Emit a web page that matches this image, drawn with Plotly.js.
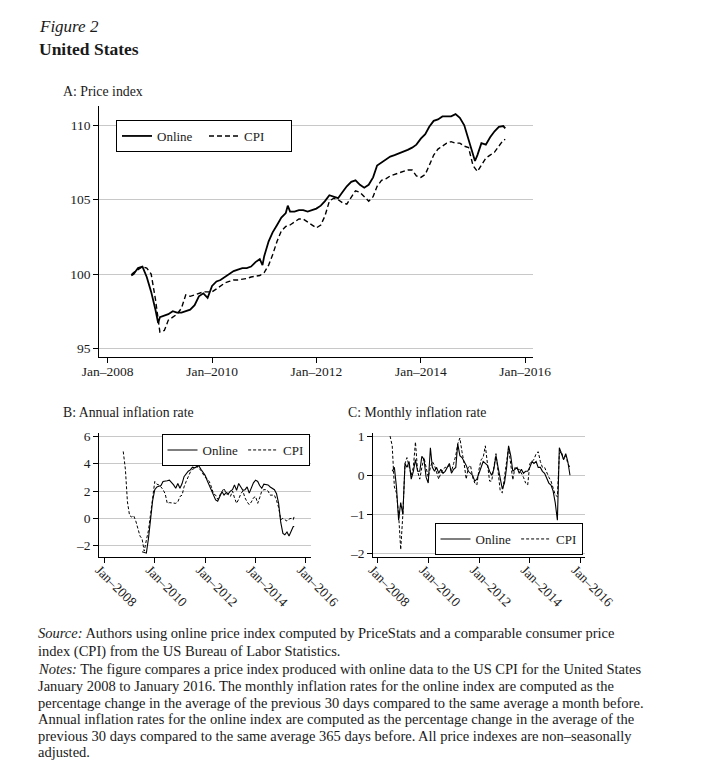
<!DOCTYPE html>
<html><head><meta charset="utf-8">
<script src="https://cdn.plot.ly/plotly-3.0.1.min.js"></script>
<style>html,body{margin:0;padding:0;background:#fff;} #chart{width:712px;height:775px;}</style>
</head><body><div id="chart"></div><script>
// ---------- Panel A: price index ----------
const aOnlineDates = ['2008-06-15','2008-07','2008-08','2008-09','2008-10','2008-11','2008-12','2008-12-20',
 '2009-01','2009-02','2009-03','2009-04','2009-05','2009-06','2009-07','2009-08','2009-09','2009-10','2009-11','2009-12',
 '2010-01','2010-02','2010-03','2010-04','2010-05','2010-06','2010-07','2010-08','2010-09','2010-10','2010-11','2010-12','2010-12-20',
 '2011-01','2011-02','2011-03','2011-04','2011-05','2011-06','2011-06-15','2011-07','2011-08','2011-09','2011-10','2011-11','2011-12',
 '2012-01','2012-02','2012-03','2012-04','2012-05','2012-06','2012-07','2012-08','2012-09','2012-10','2012-11','2012-12',
 '2013-01','2013-02','2013-03','2013-04','2013-05','2013-06','2013-07','2013-08','2013-09','2013-10','2013-11','2013-12',
 '2014-01','2014-02','2014-03','2014-04','2014-05','2014-06','2014-07','2014-08','2014-09','2014-10','2014-11','2014-12',
 '2015-01','2015-01-15','2015-02','2015-03','2015-04','2015-05','2015-06','2015-07','2015-08','2015-08-15'];
const aOnline = [99.9,100.0,100.4,100.5,99.8,98.8,97.6,96.7,
 97.1,97.2,97.3,97.5,97.4,97.4,97.5,97.6,97.9,98.5,98.7,98.4,
 99.2,99.5,99.6,99.8,100.0,100.2,100.3,100.4,100.4,100.5,100.8,101.0,100.6,
 101.2,102.2,102.8,103.3,103.8,104.1,104.6,104.2,104.2,104.3,104.3,104.2,104.3,
 104.4,104.6,104.9,105.3,105.2,105.1,105.5,105.9,106.2,106.3,106.0,105.8,
 106.0,106.5,107.3,107.5,107.7,107.9,108.0,108.1,108.2,108.35,108.5,108.7,
 109.1,109.4,109.9,110.3,110.4,110.6,110.6,110.6,110.75,110.5,110.0,109.0,
 107.9,107.6,108.0,108.8,108.7,109.2,109.6,109.9,109.95,109.8];
const aCpiDates = ['2008-06-15','2008-07','2008-08','2008-09','2008-10','2008-11','2008-12','2008-12-20',
 '2009-01','2009-02','2009-03','2009-04','2009-05','2009-06','2009-07','2009-08','2009-09','2009-10','2009-11','2009-12',
 '2010-01','2010-02','2010-03','2010-04','2010-05','2010-06','2010-07','2010-08','2010-09','2010-10','2010-11','2010-12',
 '2011-01','2011-02','2011-03','2011-04','2011-05','2011-06','2011-07','2011-08','2011-09','2011-10','2011-11','2011-12',
 '2012-01','2012-02','2012-03','2012-04','2012-05','2012-06','2012-07','2012-08','2012-09','2012-10','2012-11','2012-12',
 '2013-01','2013-02','2013-03','2013-04','2013-05','2013-06','2013-07','2013-08','2013-09','2013-10','2013-11','2013-12',
 '2014-01','2014-02','2014-03','2014-04','2014-05','2014-06','2014-07','2014-08','2014-09','2014-10','2014-11','2014-12',
 '2015-01','2015-02','2015-03','2015-04','2015-05','2015-06','2015-07','2015-08','2015-08-15'];
const aCpi = [99.95,100.1,100.3,100.5,100.4,100.0,98.3,97.0,
 96.1,96.2,96.9,97.1,97.3,97.7,98.6,98.5,98.6,98.7,98.8,98.8,
 98.8,99.0,99.2,99.4,99.5,99.6,99.6,99.65,99.7,99.8,99.85,99.9,
 100.1,100.6,101.3,102.2,102.9,103.2,103.3,103.5,103.7,103.7,103.5,103.3,
 103.1,103.3,103.9,104.9,105.1,105.0,104.8,104.7,105.2,105.6,105.5,105.2,
 104.9,105.2,105.9,106.3,106.4,106.6,106.7,106.8,106.9,107.0,107.0,106.6,
 106.5,106.7,107.3,108.0,108.4,108.6,108.8,108.9,108.8,108.8,108.6,108.5,
 107.3,106.9,107.3,107.8,108.0,108.2,108.6,109.0,109.05];

// ---------- Panel B: annual inflation rate ----------
const bCpiDates = ['2008-10','2008-11','2008-12',
 '2009-01','2009-02','2009-03','2009-04','2009-05','2009-06','2009-07','2009-08','2009-09','2009-10','2009-11','2009-12',
 '2010-01','2010-02','2010-03','2010-04','2010-05','2010-06','2010-07','2010-08','2010-09','2010-10','2010-11','2010-12',
 '2011-01','2011-02','2011-03','2011-04','2011-05','2011-06','2011-07','2011-08','2011-09','2011-10','2011-11','2011-12',
 '2012-01','2012-02','2012-03','2012-04','2012-05','2012-06','2012-07','2012-08','2012-09','2012-10','2012-11','2012-12',
 '2013-01','2013-02','2013-03','2013-04','2013-05','2013-06','2013-07','2013-08','2013-09','2013-10','2013-11','2013-12',
 '2014-01','2014-02','2014-03','2014-04','2014-05','2014-06','2014-07','2014-08','2014-09','2014-10','2014-11','2014-12',
 '2015-01','2015-02','2015-03','2015-04','2015-05','2015-06','2015-07','2015-07-15'];
const bCpi = [4.9,3.6,1.2,
 0.2,0.1,0.2,-0.2,-0.7,-1.3,-1.5,-2.4,-1.6,-0.9,0.3,1.6,
 2.7,2.5,2.45,2.3,2.1,1.8,1.1,1.15,1.15,1.15,1.1,1.2,
 1.6,1.7,2.3,2.7,3.1,3.4,3.6,3.65,3.8,3.7,3.5,3.2,
 3.0,2.9,2.7,2.3,1.8,1.7,1.4,1.7,2.0,2.2,1.8,1.75,
 1.6,2.0,1.5,1.1,1.4,1.8,2.0,1.5,1.2,1.0,1.2,1.5,
 1.6,1.1,1.5,2.0,2.1,2.1,2.0,1.7,1.7,1.7,1.3,0.8,
 -0.1,0.0,-0.1,-0.2,-0.05,0.0,-0.1,0.15];
const bOnlineDates = ['2009-07','2009-08','2009-09','2009-10','2009-11','2009-12',
 '2010-01','2010-02','2010-03','2010-04','2010-05','2010-06','2010-07','2010-08','2010-09','2010-10','2010-11','2010-12',
 '2011-01','2011-02','2011-03','2011-04','2011-05','2011-06','2011-07','2011-08','2011-09','2011-10','2011-11','2011-12',
 '2012-01','2012-02','2012-03','2012-04','2012-05','2012-06','2012-07','2012-08','2012-09','2012-10','2012-11','2012-12',
 '2013-01','2013-02','2013-03','2013-04','2013-05','2013-06','2013-07','2013-08','2013-09','2013-10','2013-11','2013-12',
 '2014-01','2014-02','2014-03','2014-04','2014-05','2014-06','2014-07','2014-08','2014-09','2014-10','2014-11','2014-12',
 '2015-01','2015-02','2015-03','2015-04','2015-05','2015-06','2015-07','2015-07-15'];
const bOnline = [-2.45,-2.5,-2.55,-1.5,0.2,1.3,
 2.1,2.3,2.35,2.4,2.7,2.7,2.75,2.8,2.65,2.45,2.2,2.55,
 2.2,2.55,3.05,3.3,3.45,3.55,3.75,3.7,3.8,3.85,3.6,3.4,
 3.15,2.75,2.4,2.1,1.7,1.35,1.25,1.6,1.95,1.7,1.9,1.8,
 2.0,2.1,2.45,2.05,2.55,2.3,2.05,2.1,2.3,1.85,2.3,2.6,
 2.8,2.7,2.4,2.2,2.5,2.45,2.45,2.3,2.2,2.1,1.8,1.1,
 -0.3,-1.1,-1.2,-1.0,-1.3,-0.9,-0.6,-0.6];

// ---------- Panel C: monthly inflation rate ----------
const cCpiDates = ['2008-07','2008-08','2008-09','2008-10','2008-11','2008-12',
 '2009-01','2009-02','2009-03','2009-04','2009-05','2009-06','2009-07','2009-08','2009-09','2009-10','2009-11','2009-12',
 '2010-01','2010-02','2010-03','2010-04','2010-05','2010-06','2010-07','2010-08','2010-09','2010-10','2010-11','2010-12',
 '2011-01','2011-02','2011-03','2011-04','2011-05','2011-06','2011-07','2011-08','2011-09','2011-10','2011-11','2011-12',
 '2012-01','2012-02','2012-03','2012-04','2012-05','2012-06','2012-07','2012-08','2012-09','2012-10','2012-11','2012-12',
 '2013-01','2013-02','2013-03','2013-04','2013-05','2013-06','2013-07','2013-08','2013-09','2013-10','2013-11','2013-12',
 '2014-01','2014-02','2014-03','2014-04','2014-05','2014-06','2014-07','2014-08','2014-09','2014-10','2014-11','2014-12',
 '2015-01','2015-02','2015-03','2015-04','2015-05','2015-06','2015-07','2015-08'];
const cCpi = [1.0,0.75,-0.3,-0.45,-1.0,-1.9,
 -1.0,0.3,0.45,0.2,0.0,0.2,0.85,0.1,-0.1,0.2,0.45,0.2,
 -0.05,0.2,0.35,0.25,0.1,-0.1,0.05,0.15,0.2,0.2,0.25,0.1,
 0.3,0.5,0.8,0.95,0.6,0.3,-0.1,0.2,0.25,-0.05,-0.2,-0.25,
 0.15,0.4,0.45,0.75,0.3,-0.15,-0.15,0.25,0.55,0.1,-0.4,-0.45,
 0.0,0.35,0.7,0.2,-0.12,0.2,0.15,0.15,0.05,-0.05,-0.2,-0.25,
 0.3,0.35,0.4,0.55,0.6,0.35,0.2,0.2,0.05,-0.05,-0.15,-0.3,
 -0.5,-0.55,0.55,0.6,0.4,0.5,0.3,0.2];
const cOnlineDates = ['2008-08','2008-09','2008-10','2008-11','2008-12',
 '2009-01','2009-02','2009-03','2009-04','2009-05','2009-06','2009-07','2009-08','2009-09','2009-10','2009-11','2009-12',
 '2010-01','2010-02','2010-03','2010-04','2010-05','2010-06','2010-07','2010-08','2010-09','2010-10','2010-11','2010-12',
 '2011-01','2011-02','2011-03','2011-04','2011-05','2011-06','2011-07','2011-08','2011-09','2011-10','2011-11','2011-12',
 '2012-01','2012-02','2012-03','2012-04','2012-05','2012-06','2012-07','2012-08','2012-09','2012-10','2012-11','2012-12',
 '2013-01','2013-02','2013-03','2013-04','2013-05','2013-06','2013-07','2013-08','2013-09','2013-10','2013-11','2013-12',
 '2014-01','2014-02','2014-03','2014-04','2014-05','2014-06','2014-07','2014-08','2014-09','2014-10','2014-11','2014-12',
 '2015-01','2015-02','2015-03','2015-04','2015-05','2015-06','2015-07','2015-08'];
const cOnline = [0.1,0.2,-0.3,-1.15,-0.7,
 -1.0,0.3,0.2,0.35,-0.1,0.1,0.4,0.1,0.1,0.48,0.4,-0.05,
 -0.2,0.7,0.2,0.1,0.2,0.05,0.15,0.05,0.1,0.2,0.3,0.05,
 0.15,0.2,0.8,0.5,0.45,0.35,0.25,0.1,0.05,0.0,-0.15,-0.1,
 0.05,0.2,0.35,0.3,0.25,0.1,0.0,0.15,0.5,0.2,-0.05,-0.35,
 -0.2,0.2,0.75,0.5,0.1,0.15,0.2,0.05,0.15,0.05,0.1,0.1,
 0.2,0.35,0.3,0.35,0.2,0.2,0.1,0.05,-0.1,-0.2,-0.25,-0.4,
 -0.7,-1.15,0.7,0.55,0.4,0.55,0.35,0.0];

// ---------- Tick labels ----------
const xTickVals = ['2008-01-01','2010-01-01','2012-01-01','2014-01-01','2016-01-01'];
const xTickText = ['Jan\u20132008','Jan\u20132010','Jan\u20132012','Jan\u20132014','Jan\u20132016'];
const aYTicks = [95,100,105,110];
const bYTicks = [-2,0,2,4,6];
const bYText = ['\u20132','0','2','4','6'];
const cYTicks = [-2,-1,0,1];
const cYText = ['\u20132','\u20131','0','1'];

const W = 712, H = 775;
const fx = p => p / W;
const fy = p => 1 - p / H;
const FONT = 'Liberation Serif, "Times New Roman", serif';
const INK = '#1a1a1a';
const GRID = '#c8c8c8';

const traces = [
  {x: aOnlineDates, y: aOnline, name: 'Online', type: 'scatter', mode: 'lines', xaxis: 'x', yaxis: 'y', legend: 'legend',
   line: {color: '#000', width: 1.8}},
  {x: aCpiDates, y: aCpi, name: 'CPI', type: 'scatter', mode: 'lines', xaxis: 'x', yaxis: 'y', legend: 'legend',
   line: {color: '#000', width: 1.4, dash: '5px,3px'}},
  {x: bOnlineDates, y: bOnline, name: 'Online', type: 'scatter', mode: 'lines', xaxis: 'x2', yaxis: 'y2', legend: 'legend2',
   line: {color: '#000', width: 1.1}},
  {x: bCpiDates, y: bCpi, name: 'CPI', type: 'scatter', mode: 'lines', xaxis: 'x2', yaxis: 'y2', legend: 'legend2',
   line: {color: '#000', width: 1.0, dash: '3px,2px'}},
  {x: cOnlineDates, y: cOnline, name: 'Online', type: 'scatter', mode: 'lines', xaxis: 'x3', yaxis: 'y3', legend: 'legend3',
   line: {color: '#000', width: 1.1}},
  {x: cCpiDates, y: cCpi, name: 'CPI', type: 'scatter', mode: 'lines', xaxis: 'x3', yaxis: 'y3', legend: 'legend3',
   line: {color: '#000', width: 1.0, dash: '3px,2px'}}
];

function xAxis(domain, range, angle, standoff, shift) {
  return {domain: domain, range: range, type: 'date', tickmode: 'array', tickvals: xTickVals, ticktext: xTickText,
    tickangle: angle, ticks: 'outside', ticklen: 5, tickcolor: '#000', showline: true, linecolor: '#000', linewidth: 1,
    ticklabelstandoff: standoff, ticklabelshift: shift,
    showgrid: false, zeroline: false, automargin: false, tickfont: {family: FONT, size: 13.5, color: INK}};
}
function yAxis(domain, range, vals, text, anchor) {
  return {domain: domain, range: range, tickmode: 'array', tickvals: vals, ticktext: text, anchor: anchor,
    ticks: 'outside', ticklen: 5, tickcolor: '#000', showline: true, linecolor: '#000', linewidth: 1,
    showgrid: true, gridcolor: GRID, gridwidth: 1, zeroline: false, automargin: false,
    tickfont: {family: FONT, size: 13.5, color: INK}};
}
function legendAt(x, y, anchor) {
  return {x: x, y: y, xanchor: anchor, yanchor: 'top', orientation: 'h', bgcolor: '#fff',
    bordercolor: '#000', borderwidth: 1, font: {family: FONT, size: 13, color: INK}, itemwidth: 30,
    tracegroupgap: 0, itemclick: false, itemdoubleclick: false};
}

const noteLines = [
 '<i>Source:</i> Authors using online price index computed by PriceStats and a comparable consumer price',
 'index (CPI) from the US Bureau of Labor Statistics.',
 '<i>Notes:</i> The figure compares a price index produced with online data to the US CPI for the United States',
 'January 2008 to January 2016. The monthly inflation rates for the online index are computed as the',
 'percentage change in the average of the previous 30 days compared to the same average a month before.',
 'Annual inflation rates for the online index are computed as the percentage change in the average of the',
 'previous 30 days compared to the same average 365 days before. All price indexes are non\u2013seasonally',
 'adjusted.'
];
const noteY = [633, 651, 668.5, 685.5, 702.5, 719, 735.5, 752];

const annotations = [
  {text: '<i>Figure 2</i>', x: fx(37), y: fy(27), size: 17},
  {text: '<b>United States</b>', x: fx(37), y: fy(49), size: 17.5},
  {text: 'A: Price index', x: fx(61), y: fy(91), size: 13.8},
  {text: 'B: Annual inflation rate', x: fx(61), y: fy(412), size: 13.8},
  {text: 'C: Monthly inflation rate', x: fx(346), y: fy(412), size: 13.8}
].map(a => ({text: a.text, x: a.x, y: a.y, xref: 'paper', yref: 'paper', xanchor: 'left', yanchor: 'middle',
  showarrow: false, font: {family: FONT, size: a.size, color: INK}}));
noteLines.forEach((t, i) => annotations.push({text: t, x: fx(36), y: fy(noteY[i]), xref: 'paper', yref: 'paper',
  xanchor: 'left', yanchor: 'middle', showarrow: false, font: {family: FONT, size: 14.5, color: INK}}));

const layout = {
  width: W, height: H, autosize: false, margin: {l: 0, r: 0, t: 0, b: 0},
  paper_bgcolor: '#fff', plot_bgcolor: '#fff', showlegend: true, hovermode: false,
  font: {family: FONT, color: INK},
  xaxis: Object.assign(xAxis([fx(99.3), fx(533)], ['2007-11-04', '2016-02-25'], 0, -3, 0), {anchor: 'y'}),
  yaxis: yAxis([fy(356.7), fy(106)], [94.44, 111.3], aYTicks, aYTicks.map(String), 'x'),
  xaxis2: Object.assign(xAxis([fx(99.3), fx(310.7)], ['2007-10-20', '2016-03-10'], 45, -6, -5), {anchor: 'y2'}),
  yaxis2: yAxis([fy(556.7), fy(433.3)], [-2.81, 6.23], bYTicks, bYText, 'x2'),
  xaxis3: Object.assign(xAxis([fx(373.3), fx(585)], ['2007-11-03', '2016-03-04'], 45, -6, -5), {anchor: 'y3'}),
  yaxis3: yAxis([fy(556.7), fy(433.3)], [-2.08, 1.07], cYTicks, cYText, 'x3'),
  legend: Object.assign(legendAt(fx(116), fy(120), 'left'), {entrywidth: 42}),
  legend2: legendAt(fx(309.5), fy(434), 'right'),
  legend3: legendAt(fx(582.5), fy(523), 'right'),
  annotations: annotations
};

Plotly.newPlot('chart', traces, layout, {staticPlot: true, displayModeBar: false});
</script></body></html>
